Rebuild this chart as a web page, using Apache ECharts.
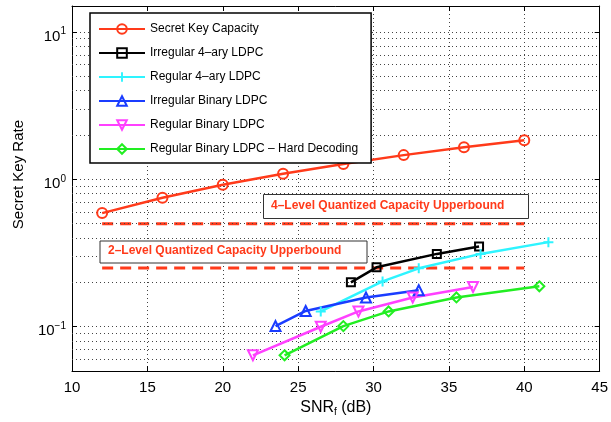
<!DOCTYPE html>
<html>
<head>
<meta charset="utf-8">
<script src="https://cdn.jsdelivr.net/npm/echarts@6/dist/echarts.min.js"></script>
<style>html,body{margin:0;padding:0;background:#fff}#c{width:611px;height:422px}</style>
</head>
<body>
<div id="c"></div>
<script>
// ---- data ----
const capSnr = [12, 16, 20, 24, 28, 32, 36, 40];
const capRate = [0.59, 0.75, 0.92, 1.09, 1.27, 1.46, 1.65, 1.84];

const irr4Snr = [28.5, 30.2, 34.2, 37.0];
const irr4Rate = [0.200, 0.253, 0.312, 0.350];

const reg4Snr = [26.5, 30.6, 33.0, 37.1, 41.6];
const reg4Rate = [0.127, 0.203, 0.249, 0.312, 0.375];

const irrBinSnr = [23.5, 25.5, 29.5, 33.0];
const irrBinRate = [0.101, 0.128, 0.158, 0.177];

const regBinSnr = [22.0, 26.5, 29.0, 32.6, 36.6];
const regBinRate = [0.064, 0.100, 0.127, 0.158, 0.186];

const hardSnr = [24.1, 28.0, 31.0, 35.5, 41.0];
const hardRate = [0.064, 0.101, 0.127, 0.158, 0.188];

const boundSnr = [12, 40];
const bound4 = 0.5;
const bound2 = 0.25;

const xTicks = [10, 15, 20, 25, 30, 35, 40, 45];
const yMinorGrid = [0.06, 0.07, 0.08, 0.09, 0.2, 0.3, 0.4, 0.5, 0.6, 0.7, 0.8, 0.9, 2, 3, 4, 5, 6, 7, 8, 9];

const names = ['Secret Key Capacity', 'Irregular 4\u2013ary LDPC', 'Regular 4\u2013ary LDPC',
  'Irregular Binary LDPC', 'Regular Binary LDPC', 'Regular Binary LDPC \u2013 Hard Decoding'];
const text4 = '4\u2013Level Quantized Capacity Upperbound';
const text2 = '2\u2013Level Quantized Capacity Upperbound';

// ---- styling ----
const FONT = '"Liberation Sans", Arial, Helvetica, sans-serif';
const RED = '#ff3a1a', CYAN = '#2ef4ff', BLUE = '#1a3cff', MAG = '#ff40ff', GREEN = '#22ee22';
const pair = (xs, ys) => xs.map((x, i) => [x, ys[i]]);

function lineSeries(name, xs, ys, color, symbol, size, filled) {
  return {
    name, type: 'line', data: pair(xs, ys), color,
    symbol, symbolSize: size, showSymbol: true,
    lineStyle: { color, width: 2.5 },
    itemStyle: filled ? { color, borderWidth: 0 } : { color: 'rgba(0,0,0,0)', borderColor: color, borderWidth: 2 },
    emphasis: { disabled: true }, silent: true, z: 5
  };
}

const gridDot = { color: '#444', width: 1, type: [1, 3] };

const option = {
  animation: false,
  backgroundColor: '#fff',
  grid: { left: 72, right: 11, top: 6, bottom: 44 },
  legend: {
    left: 90, top: 13, orient: 'vertical', selectedMode: false,
    data: names,
    itemWidth: 46, itemHeight: 12, itemGap: 12,
    padding: [10, 13, 8, 8],
    borderColor: '#000', borderWidth: 1.5, backgroundColor: '#fff',
    textStyle: { fontFamily: FONT, fontSize: 12, color: '#000', lineHeight: 12 },
    z: 20
  },
  xAxis: [{
    type: 'value', min: xTicks[0], max: xTicks[xTicks.length - 1], interval: 5,
    position: 'bottom',
    name: '{a|SNR}{s|f}{a| (dB)}', nameLocation: 'middle', nameGap: 24,
    nameTextStyle: { rich: {
      a: { fontFamily: FONT, fontSize: 16, color: '#000' },
      s: { fontFamily: FONT, fontSize: 10, color: '#000', verticalAlign: 'bottom', padding: [8, 0, 0, 0] }
    } },
    axisLine: { lineStyle: { color: '#000', width: 1 } },
    axisTick: { inside: true, length: 5, lineStyle: { color: '#000' } },
    axisLabel: { margin: 9, fontFamily: FONT, fontSize: 15, color: '#000' },
    splitLine: { show: true, lineStyle: gridDot }
  }, {
    type: 'value', min: xTicks[0], max: xTicks[xTicks.length - 1], interval: 5,
    position: 'top',
    axisLine: { lineStyle: { color: '#000', width: 1 } },
    axisTick: { inside: true, length: 5, lineStyle: { color: '#000' } },
    axisLabel: { show: false }, splitLine: { show: false }
  }],
  yAxis: [{
    type: 'log', min: 0.05, max: 15, logBase: 10,
    position: 'left',
    name: 'Secret Key Rate', nameLocation: 'middle', nameGap: 46,
    nameTextStyle: { fontFamily: FONT, fontSize: 15, color: '#000', padding: [0, 0, 0, 28] },
    axisLine: { show: true, lineStyle: { color: '#000', width: 1 } },
    axisTick: { inside: true, length: 5, lineStyle: { color: '#000' } },
    axisLabel: {
      margin: 6, showMinLabel: false, showMaxLabel: false,
      padding: [9, 0, 0, 0],
      formatter: v => {
        const l = Math.log10(v), e = Math.round(l);
        if (Math.abs(l - e) > 1e-6) return '';
        return '{b|10}{s|' + (e < 0 ? '\u2212' + (-e) : e) + '}';
      },
      rich: {
        b: { fontFamily: FONT, fontSize: 15, color: '#000', lineHeight: 20 },
        s: { fontFamily: FONT, fontSize: 10, color: '#000', verticalAlign: 'top', lineHeight: 10 }
      }
    },
    splitLine: { show: true, lineStyle: gridDot }
  }, {
    type: 'log', min: 0.05, max: 15, logBase: 10,
    position: 'right',
    axisLine: { show: true, lineStyle: { color: '#000', width: 1 } },
    axisTick: { inside: true, length: 5, lineStyle: { color: '#000' } },
    axisLabel: { show: false }, splitLine: { show: false }
  }],
  graphic: [
    { type: 'rect', left: 263, top: 194, z: 30, shape: { width: 265, height: 24 },
      style: { fill: '#fff', stroke: '#333', lineWidth: 1 } },
    { type: 'text', left: 271, top: 199.5, z: 31,
      style: { text: text4, fill: RED, font: 'bold 12px ' + FONT } },
    { type: 'rect', left: 99.5, top: 240.5, z: 30, shape: { width: 267, height: 22 },
      style: { fill: '#fff', stroke: '#333', lineWidth: 1 } },
    { type: 'text', left: 108, top: 245, z: 31,
      style: { text: text2, fill: RED, font: 'bold 12px ' + FONT } }
  ],
  series: [
    {
      name: 'minorGrid', type: 'line', data: [], silent: true, z: 1,
      markLine: {
        silent: true, symbol: 'none', label: { show: false }, animation: false,
        lineStyle: gridDot, emphasis: { disabled: true },
        data: yMinorGrid.map(v => ({ yAxis: v }))
      }
    },
    {
      name: 'bound4', type: 'line', data: pair(boundSnr, [bound4, bound4]), symbol: 'none',
      lineStyle: { color: RED, width: 3, type: [11, 7] }, silent: true, z: 4
    },
    {
      name: 'bound2', type: 'line', data: pair(boundSnr, [bound2, bound2]), symbol: 'none',
      lineStyle: { color: RED, width: 3, type: [11, 7] }, silent: true, z: 4
    },
    lineSeries(names[0], capSnr, capRate, RED, 'circle', 10, false),
    lineSeries(names[1], irr4Snr, irr4Rate, '#000', 'rect', 8, false),
    lineSeries(names[2], reg4Snr, reg4Rate, CYAN, 'path://M4,0H6V10H4Z M0,4H10V6H0Z', 10, true),
    lineSeries(names[3], irrBinSnr, irrBinRate, BLUE, 'triangle', 10, false),
    lineSeries(names[4], regBinSnr, regBinRate, MAG, 'path://M0,0L10,0L5,9Z', 10, false),
    lineSeries(names[5], hardSnr, hardRate, GREEN, 'diamond', 10, false)
  ]
};

const chart = echarts.init(document.getElementById('c'), null, { renderer: 'canvas' });
chart.setOption(option);
</script>
</body>
</html>
